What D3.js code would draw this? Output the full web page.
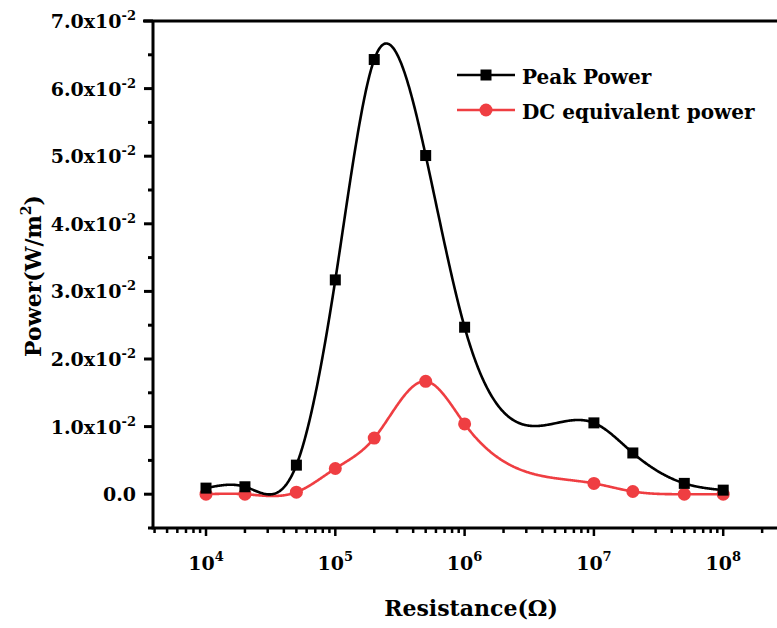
<!DOCTYPE html>
<html lang="en">
<head>
    <meta charset="UTF-8">
    <title>Power vs Resistance</title>
    <style>
        body { margin: 0; background: #fff; }
        text { font-family: "DejaVu Serif", "Liberation Serif", serif; font-weight: bold; }
        .curve { fill: none; stroke-width: 2.6px; }
    </style>
    <script src="https://d3js.org/d3.v7.min.js"></script>
</head>
<body>
    <svg width="777" height="628"></svg>
    <script>
        // data
        const resistance = [1e4, 2e4, 5e4, 1e5, 2e5, 5e5, 1e6, 1e7, 2e7, 5e7, 1e8];
        const peakPower = [0.0009, 0.0011, 0.0043, 0.0317, 0.0643, 0.0501, 0.0247, 0.01055, 0.0061, 0.0016, 0.0006];
        const dcPower = [0.0, 0.0, 0.0003, 0.0038, 0.0083, 0.0167, 0.0104, 0.0016, 0.0004, 0.0, 0.0];
        const yTicks = [0, 0.01, 0.02, 0.03, 0.04, 0.05, 0.06, 0.07];
        const xDecades = [4, 5, 6, 7, 8];

        const series = [
            { name: "Peak Power", values: peakPower, color: "#000000", shape: "square" },
            { name: "DC equivalent power", values: dcPower, color: "#ef3e42", shape: "circle" }
        ];

        const svg = d3.select("svg");
        const pLeft = 153, pRight = 777, pTop = 21, pBottom = 528;

        const x = d3.scaleLog()
            .domain([Math.pow(10, 3.59), Math.pow(10, 8.416)])
            .range([pLeft, pRight]);
        const y = d3.scaleLinear()
            .domain([-0.005, 0.07])
            .range([pBottom, pTop]);

        // natural cubic spline y(u)
        function spline(xs, ys) {
            const n = xs.length;
            const h = [], a = [], b = [], c = [], r = [];
            for (let i = 0; i < n - 1; i++) h.push(xs[i + 1] - xs[i]);
            const M = new Array(n).fill(0);
            for (let i = 1; i < n - 1; i++) {
                a.push(h[i - 1]);
                b.push(2 * (h[i - 1] + h[i]));
                c.push(h[i]);
                r.push(6 * ((ys[i + 1] - ys[i]) / h[i] - (ys[i] - ys[i - 1]) / h[i - 1]));
            }
            const m = b.length;
            for (let i = 1; i < m; i++) {
                const w = a[i] / b[i - 1];
                b[i] -= w * c[i - 1];
                r[i] -= w * r[i - 1];
            }
            const sol = new Array(m);
            sol[m - 1] = r[m - 1] / b[m - 1];
            for (let i = m - 2; i >= 0; i--) sol[i] = (r[i] - c[i] * sol[i + 1]) / b[i];
            for (let i = 0; i < m; i++) M[i + 1] = sol[i];
            return function(t) {
                let i = 0;
                while (i < n - 2 && t > xs[i + 1]) i++;
                const hi = h[i], A = (xs[i + 1] - t) / hi, B = (t - xs[i]) / hi;
                return A * ys[i] + B * ys[i + 1] + ((A * A * A - A) * M[i] + (B * B * B - B) * M[i + 1]) * hi * hi / 6;
            };
        }

        // frame: left, bottom and top lines
        svg.append("line").attr("x1", pLeft).attr("x2", pLeft).attr("y1", pTop).attr("y2", pBottom)
            .attr("stroke", "#000").attr("stroke-width", 3);
        svg.append("line").attr("x1", pLeft - 1.5).attr("x2", pRight).attr("y1", pBottom).attr("y2", pBottom)
            .attr("stroke", "#000").attr("stroke-width", 3);
        svg.append("line").attr("x1", pLeft - 10).attr("x2", pRight).attr("y1", pTop).attr("y2", pTop)
            .attr("stroke", "#000").attr("stroke-width", 3);

        // y ticks
        const yMinor = d3.range(-0.005, 0.0701, 0.005);
        svg.append("g").selectAll("line").data(yMinor).enter().append("line")
            .attr("x1", pLeft).attr("x2", d => Math.abs(Math.round(d * 200) % 2) === 0 ? pLeft - 9 : pLeft - 5)
            .attr("y1", d => y(d)).attr("y2", d => y(d))
            .attr("stroke", "#000").attr("stroke-width", 3);

        const yLab = svg.append("g").selectAll("text").data(yTicks).enter().append("text")
            .attr("x", 136).attr("y", d => y(d) + 7)
            .attr("text-anchor", "end")
            .attr("font-size", 19);
        yLab.each(function(d) {
            const t = d3.select(this);
            if (d === 0) { t.text("0.0"); return; }
            t.append("tspan").text((d * 100).toFixed(1) + "x10");
            t.append("tspan").attr("font-size", 13).attr("dy", -8).text("-2");
        });

        // x ticks (log decades + minor 2..9)
        const [d0, d1] = x.domain();
        const xMinor = [];
        for (let e = 3; e <= 8; e++) {
            for (let m = 1; m <= 9; m++) {
                const v = m * Math.pow(10, e);
                if (v >= d0 && v <= d1) xMinor.push({ v: v, major: m === 1 });
            }
        }
        svg.append("g").selectAll("line").data(xMinor).enter().append("line")
            .attr("x1", d => x(d.v)).attr("x2", d => x(d.v))
            .attr("y1", pBottom).attr("y2", d => d.major ? pBottom + 8 : pBottom + 5)
            .attr("stroke", "#000").attr("stroke-width", 2.5);

        const xLab = svg.append("g").selectAll("text").data(xDecades).enter().append("text")
            .attr("x", d => x(Math.pow(10, d))).attr("y", 570)
            .attr("text-anchor", "middle")
            .attr("font-size", 19);
        xLab.append("tspan").text("10");
        xLab.append("tspan").attr("font-size", 13).attr("dy", -9).text(d => d);

        // axis titles
        svg.append("text")
            .attr("x", 471).attr("y", 616)
            .attr("text-anchor", "middle")
            .attr("font-size", 22)
            .text("Resistance(\u03A9)");

        const yTitle = svg.append("text")
            .attr("transform", "translate(41,276) rotate(-90)")
            .attr("text-anchor", "middle")
            .attr("font-size", 22);
        yTitle.append("tspan").text("Power(W/m");
        yTitle.append("tspan").attr("font-size", 14).attr("dy", -10).text("2");
        yTitle.append("tspan").attr("dy", 10).text(")");

        // curves: spline of y against log10(R), as drawn on the log axis
        const line = d3.line()
            .x(d => x(d[0]))
            .y(d => y(d[1]));

        function drawMarker(g, shape, color, cx, cy) {
            if (shape === "square") {
                g.append("rect").attr("x", cx - 5.5).attr("y", cy - 5.5)
                    .attr("width", 11).attr("height", 11).attr("fill", color);
            } else {
                g.append("circle").attr("cx", cx).attr("cy", cy).attr("r", 6.5).attr("fill", color);
            }
        }

        const logR = resistance.map(r => Math.log10(r));
        const xFine = d3.range(0, 801).map(i => Math.pow(10, 4 + i * 4 / 800));

        series.slice().reverse().forEach(s => {
            const f = spline(logR, s.values);
            const pts = xFine.map(t => [t, f(Math.log10(t))]);
            svg.append("path").attr("class", "curve")
                .attr("d", line(pts))
                .attr("stroke", s.color);
        });
        series.slice().reverse().forEach(s => {
            const g = svg.append("g");
            resistance.forEach((r, i) => drawMarker(g, s.shape, s.color, x(r), y(s.values[i])));
        });

        // legend
        const legend = svg.append("g");
        series.forEach((s, i) => {
            const ly = 75 + i * 35;
            legend.append("line").attr("x1", 457).attr("x2", 515).attr("y1", ly).attr("y2", ly)
                .attr("stroke", s.color).attr("stroke-width", 2.6);
            drawMarker(legend, s.shape, s.color, 486, ly);
            legend.append("text").attr("x", 522).attr("y", ly + 9)
                .attr("font-size", 20).text(s.name);
        });
    </script>
</body>
</html>
